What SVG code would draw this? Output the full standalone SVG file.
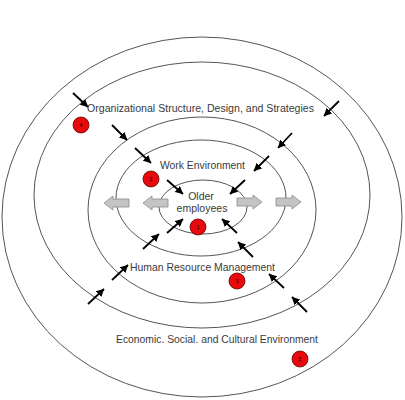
<svg xmlns="http://www.w3.org/2000/svg" width="405" height="400" viewBox="0 0 405 400">
<style>
.ring{fill:none;stroke:#555;stroke-width:1}
.lbl{font-family:"Liberation Sans",Arial,sans-serif;fill:#3a3a3a;font-size:10.5px}
.ba{stroke:#000;stroke-width:1.8;fill:none;marker-end:url(#ah)}
.ga{fill:#c4c4c4;stroke:#8a8a8a;stroke-width:0.8}
.dot{fill:#e8090c;stroke:#6b0000;stroke-width:0.8}
.num{font-family:"Liberation Sans",Arial,sans-serif;font-size:5px;fill:#000;text-anchor:middle}
</style>
<defs>
<marker id="ah" viewBox="0 0 10 10" refX="9.5" refY="5" markerUnits="userSpaceOnUse" markerWidth="8" markerHeight="8" orient="auto">
<path d="M0,0 L10,5 L0,10 Z" fill="#000"/>
</marker>
<path id="gr" d="M0,-4 H16 V-7 L25,0 L16,7 V4 H0 Z"/>
</defs>
<rect width="405" height="400" fill="#fff"/>
<g id="ring5"><ellipse class="ring" cx="202" cy="217" rx="200" ry="180"/><text class="lbl" x="116" y="343" textLength="202" lengthAdjust="spacingAndGlyphs">Economic. Social. and Cultural Environment</text><circle class="dot" cx="300" cy="359" r="8"/><text class="num" x="300" y="361">5</text></g>
<g id="ring4"><ellipse class="ring" cx="202" cy="195" rx="168" ry="133"/><text class="lbl" x="87" y="112" textLength="227" lengthAdjust="spacingAndGlyphs">Organizational Structure, Design, and  Strategies</text><circle class="dot" cx="81" cy="125" r="8"/><text class="num" x="81" y="127">4</text></g>
<g id="ring3"><ellipse class="ring" cx="202" cy="210" rx="114" ry="93"/><text class="lbl" x="130" y="271" textLength="145" lengthAdjust="spacingAndGlyphs">Human Resource Management</text><circle class="dot" cx="237" cy="281" r="8"/><text class="num" x="237" y="283">3</text></g>
<g id="ring2"><ellipse class="ring" cx="201" cy="198" rx="85" ry="58"/><text class="lbl" x="160" y="169" textLength="85" lengthAdjust="spacingAndGlyphs">Work Environment</text><circle class="dot" cx="151" cy="179" r="8"/><text class="num" x="151" y="181">2</text></g>
<g id="ring1"><ellipse class="ring" cx="203" cy="207" rx="44" ry="27"/><text class="lbl" x="201" y="200" text-anchor="middle">Older</text><text class="lbl" x="202" y="212" text-anchor="middle">employees</text><circle class="dot" cx="198" cy="227" r="8"/><text class="num" x="198" y="229">1</text></g>
<g id="connectors">
<path class="ba" d="M73,93 L88,107"/>
<path class="ba" d="M339,101 L324,116"/>
<path class="ba" d="M112,125 L127,140"/>
<path class="ba" d="M292,133 L278,148"/>
<path class="ba" d="M135,148 L151,163"/>
<path class="ba" d="M269,156 L254,171"/>
<path class="ba" d="M167,180 L183,194"/>
<path class="ba" d="M245,180 L230,194"/>
<path class="ba" d="M167,233 L183,219"/>
<path class="ba" d="M237,233 L222,219"/>
<path class="ba" d="M143,249 L159,234"/>
<path class="ba" d="M253,257 L238,242"/>
<path class="ba" d="M112,280 L128,265"/>
<path class="ba" d="M284,288 L269,274"/>
<path class="ba" d="M88,304 L104,289"/>
<path class="ba" d="M307,312 L292,297"/>
<use href="#gr" class="ga" transform="translate(237,202)"/>
<use href="#gr" class="ga" transform="translate(276,202)"/>
<use href="#gr" class="ga" transform="translate(168,203) scale(-1,1)"/>
<use href="#gr" class="ga" transform="translate(129,203) scale(-1,1)"/>
</g>
</svg>
